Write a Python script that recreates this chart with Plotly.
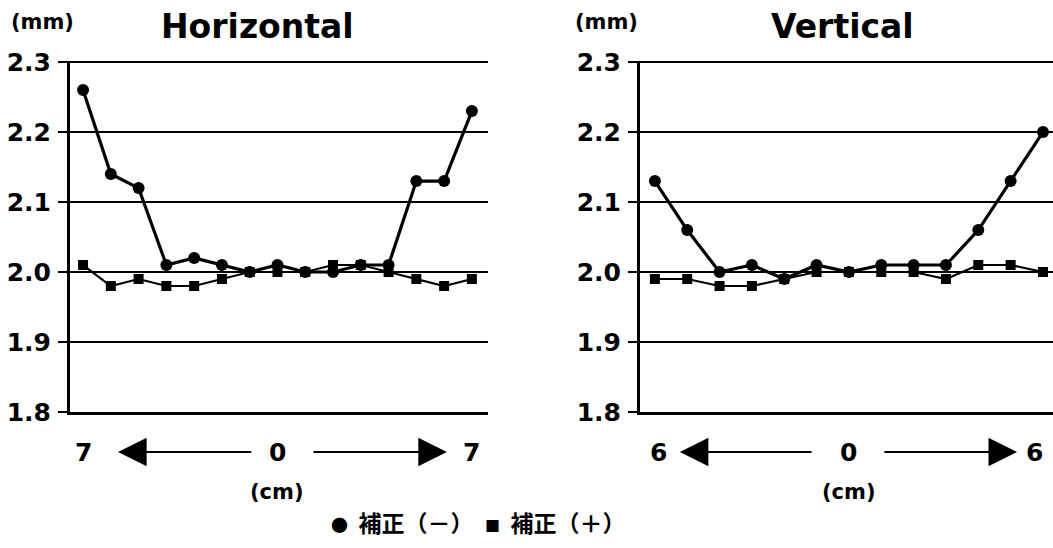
import plotly.graph_objects as go

# ---- data ----
h_pos = list(range(-7, 8))
h_minus = [2.26, 2.14, 2.12, 2.01, 2.02, 2.01, 2.00, 2.01, 2.00, 2.00, 2.01, 2.01, 2.13, 2.13, 2.23]
h_plus = [2.01, 1.98, 1.99, 1.98, 1.98, 1.99, 2.00, 2.00, 2.00, 2.01, 2.01, 2.00, 1.99, 1.98, 1.99]

v_pos = list(range(-6, 7))
v_minus = [2.13, 2.06, 2.00, 2.01, 1.99, 2.01, 2.00, 2.01, 2.01, 2.01, 2.06, 2.13, 2.20]
v_plus = [1.99, 1.99, 1.98, 1.98, 1.99, 2.00, 2.00, 2.00, 2.00, 1.99, 2.01, 2.01, 2.00]

y_ticks = [1.8, 1.9, 2.0, 2.1, 2.2, 2.3]
y_ticktext = ["1.8", "1.9", "2.0", "2.1", "2.2", "2.3"]
series_names = ["補正（－）", "補正（＋）"]

W, H = 1053, 548
BOLD = "DejaVu Sans"

def py(p):  # pixel-from-top to paper y
    return (H - p) / H

fig = go.Figure()
for xs, ym, yp, xa, ya in [(h_pos, h_minus, h_plus, "x", "y"), (v_pos, v_minus, v_plus, "x2", "y2")]:
    fig.add_trace(go.Scatter(x=xs, y=yp, xaxis=xa, yaxis=ya, mode="lines+markers", name=series_names[1],
                             line=dict(color="black", width=2.2),
                             marker=dict(symbol="square", size=10, color="black"), showlegend=False))
    fig.add_trace(go.Scatter(x=xs, y=ym, xaxis=xa, yaxis=ya, mode="lines+markers", name=series_names[0],
                             line=dict(color="black", width=3.2),
                             marker=dict(symbol="circle", size=12, color="black"), showlegend=False))

y_dom = [py(412), py(61)]
yrange = [1.8, 2.3015]

def yaxis_cfg(anchor):
    return dict(domain=y_dom, range=yrange, anchor=anchor, tickvals=y_ticks, ticktext=y_ticktext,
                showgrid=True, gridcolor="black", gridwidth=1.5, showline=True, linecolor="black",
                linewidth=3, ticks="outside", ticklen=9, tickwidth=2, tickcolor="black",
                zeroline=False, ticklabelstandoff=2, automargin=False,
                tickfont=dict(family=BOLD, size=25, color="black", weight=700))

def xaxis_cfg(dom, rng, anchor):
    return dict(domain=dom, range=rng, anchor=anchor, showgrid=False, zeroline=False, automargin=False,
                showticklabels=False, ticks="", showline=True, linecolor="black", linewidth=3)

fig.update_layout(
    width=W, height=H, margin=dict(l=0, r=0, t=0, b=0, pad=0, autoexpand=False),
    paper_bgcolor="white", plot_bgcolor="white", showlegend=False,
    xaxis=xaxis_cfg([70 / W, 488 / W], [-7.47, 7.58], "y"),
    yaxis=yaxis_cfg("x"),
    xaxis2=xaxis_cfg([640 / W, 1.0], [-6.46, 6.31], "y2"),
    yaxis2=yaxis_cfg("x2"),
)

ann = []
tf = lambda s: dict(family=BOLD, size=s, color="black", weight=700)
C = dict(xanchor="center", yanchor="middle", showarrow=False)
# titles and units
ann.append(dict(text="Horizontal", x=257 / W, y=py(26), xref="paper", yref="paper", font=tf(33), **C))
ann.append(dict(text="Vertical", x=842 / W, y=py(26), xref="paper", yref="paper", font=tf(33), **C))
ann.append(dict(text="(mm)", x=42 / W, y=py(22), xref="paper", yref="paper", font=tf(21), **C))
ann.append(dict(text="(mm)", x=606 / W, y=py(22), xref="paper", yref="paper", font=tf(21), **C))

row_y = py(452)
cm_y = py(492)
# x-direction labels (Horizontal)
for t, xv in [("7", -7), ("0", 0), ("7", 7)]:
    ann.append(dict(text=t, x=xv, y=row_y, xref="x", yref="paper", font=tf(25), **C))
ann.append(dict(text="(cm)", x=0, y=cm_y, xref="x", yref="paper", font=tf(21), **C))
# Vertical
for t, xv in [("6", -5.9), ("0", 0), ("6", 5.75)]:
    ann.append(dict(text=t, x=xv, y=row_y, xref="x2", yref="paper", font=tf(25), **C))
ann.append(dict(text="(cm)", x=0, y=cm_y, xref="x2", yref="paper", font=tf(21), **C))

# arrows
for xr, tip, tail in [("x", -5.74, -0.89), ("x", 6.1, 1.24), ("x2", -5.23, -1.11), ("x2", 5.2, 1.05)]:
    ann.append(dict(text="", x=tip, y=row_y, xref=xr, yref="paper", ax=tail, ay=0, axref=xr, ayref="pixel",
                    showarrow=True, arrowhead=2, arrowwidth=2.2, arrowsize=2.6, arrowcolor="black", standoff=0,
                    startstandoff=0))

# legend
leg = ("<span style='font-size:17px'>●</span>  " + series_names[0] +
       "　<span style='font-size:15px'>■</span>  " + series_names[1])
ann.append(dict(text=leg, x=478 / W, y=py(522), xref="paper", yref="paper",
                font=dict(family="Noto Sans CJK JP", size=23, color="black", weight=700), **C))

fig.update_layout(annotations=ann)
fig.write_html("out.html", config={"displayModeBar": False},
               post_script="document.body.style.margin='0';document.body.style.overflow='hidden';")
